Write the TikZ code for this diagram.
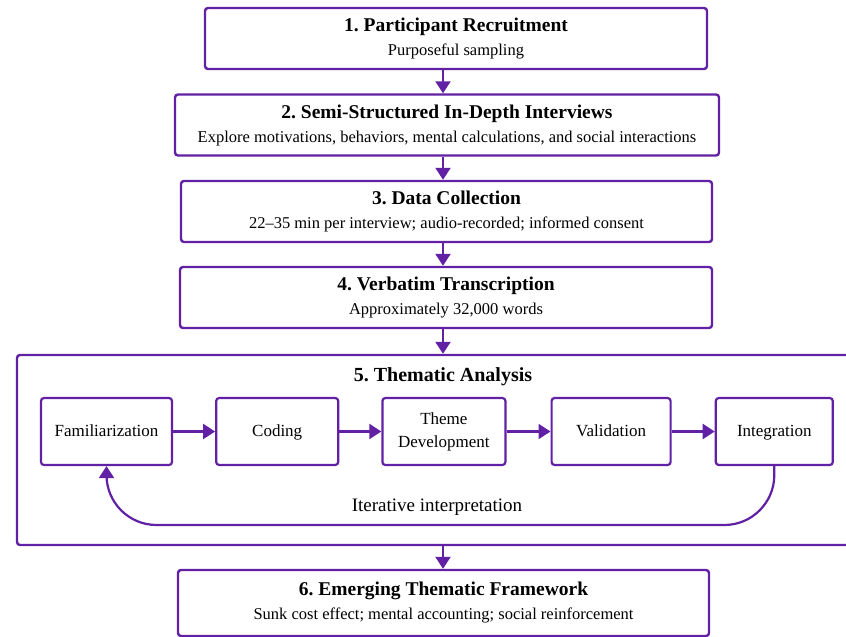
\documentclass[tikz,border=0pt]{standalone}
\usepackage{fontspec}
\setmainfont{Liberation Serif}
\usetikzlibrary{positioning, arrows.meta, calc}
\definecolor{flowpurple}{RGB}{98,32,165}
\newcommand{\stagehead}[1]{{\fontsize{19.5}{22}\selectfont\bfseries #1}}
\frenchspacing

\begin{document}
\begin{tikzpicture}[x=1pt, y=-1pt, node distance=42pt]
    \tikzset{
        stage/.style={rectangle, rounded corners=3pt, draw=flowpurple, line width=2.4pt,
                     fill=white, align=center, minimum height=61pt, inner sep=2pt,
                     font=\fontsize{16.5}{19}\selectfont},
        substep/.style={rectangle, rounded corners=3pt, draw=flowpurple, line width=2.2pt,
                     align=center, minimum height=67pt, inner sep=2pt,
                     font=\fontsize{17}{23}\selectfont},
        arrow/.style={draw=flowpurple, line width=2.2pt, -{Triangle[length=12pt, width=15pt]}}
    }
    \useasboundingbox (0,0) rectangle (846,637);
    \coordinate (spine) at (443,0);
    \node[stage, minimum width=502pt] (recruit) at (456,38.5)
        {\stagehead{1. Participant Recruitment}\\[5pt] Purposeful sampling};
    \node[stage, minimum width=544pt] (interviews) at (447,125)
        {\stagehead{2. Semi-Structured In-Depth Interviews}\\[5pt] Explore motivations, behaviors, mental calculations, and social interactions};
    \node[stage, minimum width=531pt] (collection) at (446.5,211.5)
        {\stagehead{3. Data Collection}\\[5pt] 22--35 min per interview; audio-recorded; informed consent};
    \node[stage, minimum width=532pt] (transcript) at (446,297.5)
        {\stagehead{4. Verbatim Transcription}\\[5pt] Approximately 32,000 words};
    % thematic analysis frame runs off the right edge
    \node[stage, minimum width=836pt, minimum height=190pt] (analysis) at (435,450) {};
    \node[font=\fontsize{20}{22}\selectfont\bfseries] (analysistitle) at (443,377) {5. Thematic Analysis};
    \node[substep, minimum width=131pt] (famil) at (106.5,431.5) {\strut Familiarization};
    \node[substep, minimum width=122pt, right=of famil] (coding) {\strut Coding};
    \node[substep, minimum width=123pt, right=of coding] (theme) {Theme\\ Development};
    \node[substep, minimum width=119pt, right=44pt of theme] (valid) {\strut Validation};
    \node[substep, minimum width=117pt, right=43pt of valid] (integ) {\strut Integration};
    \node[stage, minimum width=531pt, minimum height=66pt] (framework) at (443.5,603)
        {\stagehead{6. Emerging Thematic Framework}\\[5pt] Sunk cost effect; mental accounting; social reinforcement};
    \coordinate (loopbot) at (440,525);
    \node[font=\fontsize{19}{22}\selectfont] (looplabel) at (437,507) {Iterative interpretation};

    \draw[arrow] (recruit.south -| spine) -- (interviews.north -| spine);
    \draw[arrow] (interviews.south -| spine) -- (collection.north -| spine);
    \draw[arrow] (collection.south -| spine) -- (transcript.north -| spine);
    \draw[arrow] (transcript.south -| spine) -- (analysis.north -| spine);
    \draw[arrow] (analysis.south -| spine) -- (framework.north -| spine);
    \draw[arrow] (famil) -- (coding);
    \draw[arrow] (coding) -- (theme);
    \draw[arrow] (theme) -- (valid);
    \draw[arrow] (valid) -- (integ);
    \draw[arrow, rounded corners=50pt] (integ.south) |- (loopbot) -| (famil.south);
\end{tikzpicture}
\end{document}
